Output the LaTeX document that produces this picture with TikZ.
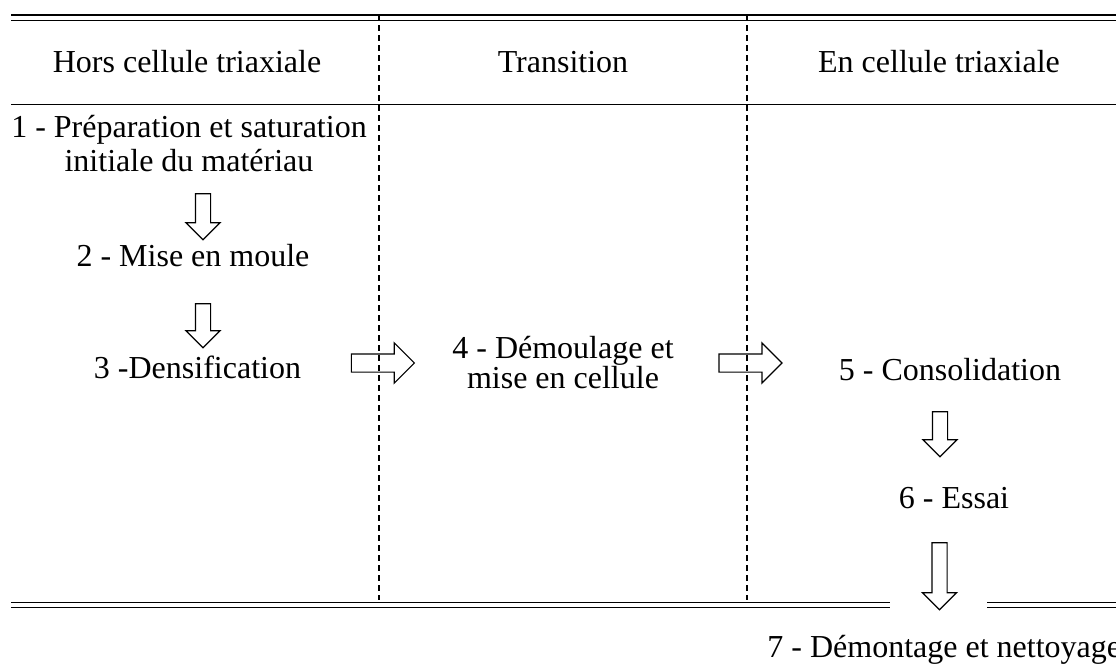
\documentclass[tikz,border=0pt]{standalone}
\usepackage{fontspec}
\setmainfont{Liberation Serif}
\usetikzlibrary{shapes.arrows}
\begin{document}
\begin{tikzpicture}[x=0.5pt,y=-0.5pt,
  lbl/.style={font=\fontsize{16}{17.2}\selectfont, inner sep=0pt, anchor=base},
  thickrule/.style={line width=1.1pt},
  thinrule/.style={line width=0.55pt},
  botrule/.style={line width=0.65pt},
  sepline/.style={line width=0.6pt, dash pattern=on 3pt off 2pt},
  darrow/.style={single arrow, draw, line width=0.6pt, inner xsep=0pt, inner ysep=3.5pt,
    single arrow head extend=4.75pt, rotate=-90},
  rarrow/.style={single arrow, draw, line width=0.6pt, inner xsep=0pt, inner ysep=4.25pt,
    single arrow head extend=5.5pt},
]
\useasboundingbox (0,0) rectangle (1116,664);
% rules
\draw[thickrule] (11,15) -- (1116,15);
\draw[thinrule] (11,20.7) -- (1116,20.7);
\draw[thinrule] (11,104.3) -- (1116,104.3);
\draw[botrule] (11,602.3) -- (890,602.3);
\draw[botrule] (11,607.7) -- (890,607.7);
\draw[botrule] (987,602.3) -- (1116,602.3);
\draw[botrule] (987,607.7) -- (1116,607.7);
\draw[sepline] (379,15) -- (379,600);
\draw[sepline] (747,15) -- (747,600);
% headers
\node[lbl] (h1) at (187,72.7) {Hors cellule triaxiale};
\node[lbl] (h2) at (563,72.7) {Transition};
\node[lbl] (h3) at (939,72.7) {En cellule triaxiale};
% steps
\node[lbl, align=center] (s1) at (189,171.7) {1 - Préparation et saturation\\initiale du matériau};
\node[lbl] (s2) at (193,266.7) {2 - Mise en moule};
\node[lbl] (s3) at (197.5,378) {3 -Densification};
\node[lbl, align=center, font={\fontsize{16}{14.6}\selectfont}] (s4) at (563,388) {4 - Démoulage et\\mise en cellule};
\node[lbl] (s5) at (950,380) {5 - Consolidation};
\node[lbl] (s6) at (954,508.3) {6 - Essai};
\node[lbl, anchor=base west] (s7) at (767,657) {7 - Démontage et nettoyage};
% block arrows
\node[darrow, minimum height=23pt] (a12) at (203,213) {};
\node[darrow, minimum height=22pt] (a23) at (203,322) {};
\node[rarrow, minimum height=31.5pt] (a34) at (378.3,363) {};
\node[rarrow, minimum height=31.5pt] (a45) at (746,363) {};
\node[darrow, minimum height=22.5pt] (a56) at (940,430.5) {};
\node[darrow, minimum height=33.5pt] (a67) at (939.5,572.5) {};
\end{tikzpicture}
\end{document}
